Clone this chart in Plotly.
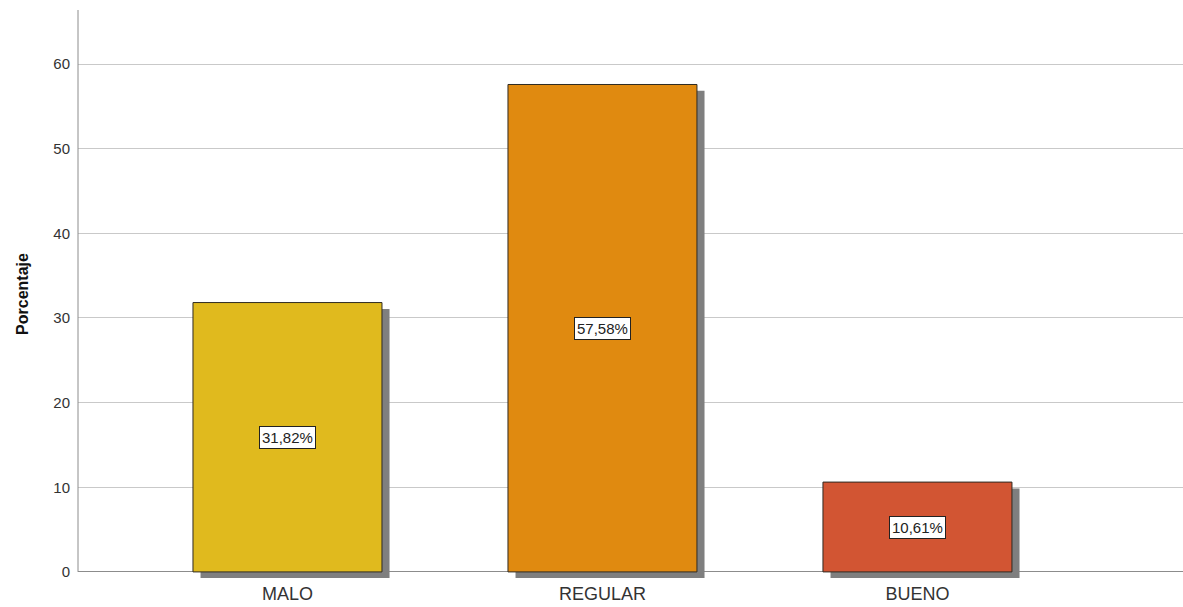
import plotly.graph_objects as go

# Category labels and percentage values
categories = ["MALO", "REGULAR", "BUENO"]
percentages = [31.82, 57.58, 10.61]
bar_colors = ["#E0BA1E", "#E08A10", "#D25533"]
y_ticks = [0, 10, 20, 30, 40, 50, 60]

FONT = "Liberation Sans, Arial, sans-serif"

# Axis geometry
y_top = 66.38
y_bottom = -0.72           # room below zero so the drop shadow shows
bar_width = 0.6
shadow_dx = 0.024          # horizontal shadow shift, category units
shadow_dy = 0.75           # vertical shadow shift, value units

fig = go.Figure()

# Drop shadows behind the bars
fig.add_trace(go.Bar(
    x=categories,
    y=percentages,
    base=[-shadow_dy] * len(percentages),
    width=bar_width,
    offset=-bar_width / 2 + shadow_dx,
    marker=dict(color="#7f7f7f", line=dict(width=0)),
    hoverinfo="skip",
    showlegend=False,
))

# Main bars
fig.add_trace(go.Bar(
    x=categories,
    y=percentages,
    width=bar_width,
    offset=-bar_width / 2,
    marker=dict(color=bar_colors, line=dict(color="#2e2a22", width=1)),
    showlegend=False,
))

# Boxed value labels in the middle of each bar
for cat, val in zip(categories, percentages):
    fig.add_annotation(
        x=cat, y=val / 2,
        text=f"{val:.2f}".replace(".", ",") + "%",
        showarrow=False,
        bgcolor="white",
        bordercolor="#222",
        borderwidth=1,
        borderpad=2,
        font=dict(family=FONT, size=15, color="#222"),
    )

# Vertical axis line from zero to the top
fig.add_shape(
    type="line", xref="paper", yref="y",
    x0=0, x1=0, y0=0, y1=y_top,
    line=dict(color="#8c8c8c", width=1),
)

fig.update_layout(
    width=1183, height=607,
    margin=dict(l=78, r=0, t=10, b=29),
    paper_bgcolor="white",
    plot_bgcolor="white",
    barmode="overlay",
    font=dict(family=FONT),
    xaxis=dict(
        type="category",
        range=[-0.665, 2.843],
        showgrid=False,
        showline=False,
        zeroline=False,
        ticks="",
        ticklabelstandoff=3,
        tickfont=dict(family=FONT, size=18, color="#333"),
    ),
    yaxis=dict(
        range=[y_bottom, y_top],
        tickvals=y_ticks,
        showgrid=True,
        gridcolor="#c9c9c9",
        gridwidth=1,
        zeroline=True,
        zerolinecolor="#8c8c8c",
        zerolinewidth=1,
        showline=False,
        ticks="",
        ticklabelstandoff=7,
        tickfont=dict(family=FONT, size=15, color="#333"),
        title=dict(
            text="<b>Porcentaje</b>",
            font=dict(family=FONT, size=16, color="#111"),
            standoff=20,
        ),
    ),
)

fig.write_html("out.html")
